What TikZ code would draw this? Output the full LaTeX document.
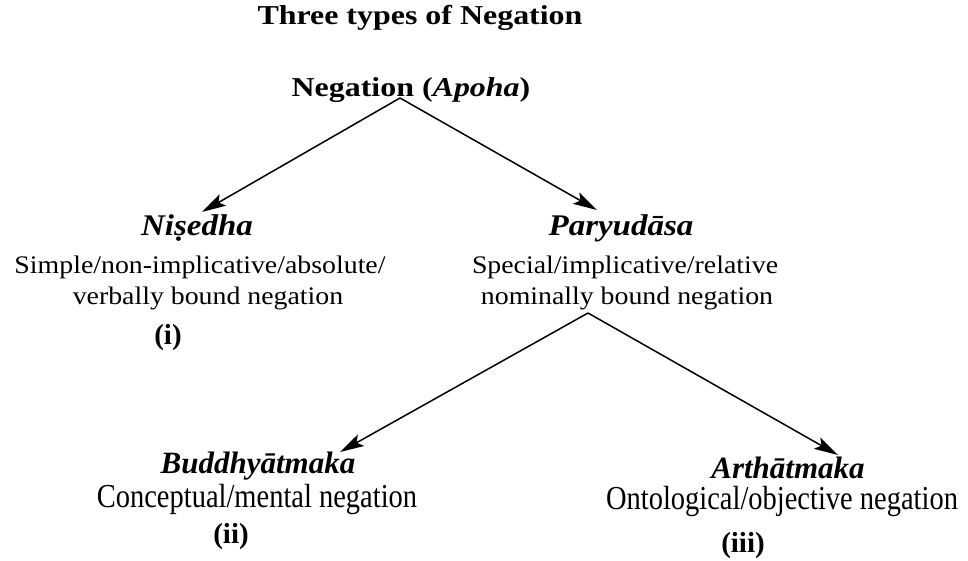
\documentclass[tikz,border=0pt]{standalone}
\usepackage{fontspec}
\setmainfont{Liberation Serif}
\newfontfamily\topfont[FakeStretch=1.17]{Liberation Serif}
\newfontfamily\upfont[FakeStretch=1.1]{Liberation Serif}
\newfontfamily\lowfont[FakeStretch=0.85]{Liberation Serif}
\usepackage{tikz}
\usetikzlibrary{arrows.meta, positioning}
\tikzset{toptext/.style={font=\fontsize{27.3}{30}\topfont\bfseries, anchor=base, inner sep=0pt},
  uphead/.style={font=\fontsize{30}{32}\upfont\bfseries\itshape, anchor=base, inner sep=0pt},
  upbody/.style={font=\fontsize{25.3}{30}\upfont, anchor=base, inner sep=0pt},
  lowhead/.style={font=\fontsize{31}{32}\selectfont\bfseries\itshape, anchor=base, inner sep=0pt},
  lowbody/.style={font=\fontsize{33.5}{34}\lowfont, anchor=base, inner sep=0pt},
  num/.style={font=\fontsize{29}{30}\selectfont\bfseries, anchor=base, inner sep=0pt}}

\begin{document}
\begin{tikzpicture}[x=1pt, y=-1pt, >={Stealth[length=24pt, width=13pt, inset=5pt]}, line width=1.5pt]
\useasboundingbox (0,0) rectangle (968,561);
\node[toptext] (title) at (420,25) {Three types of Negation};
\node[toptext] (neg) at (411,97) {Negation (\textit{Apoha})};
% first level
\node[uphead] (nis) at (197,236) {Niṣedha};
\node[upbody] (nisA) at (200,273) {Simple/non-implicative/absolute/};
\node[upbody] (nisB) at (208,304) {verbally bound negation};
\node[num] (nisN) at (168,344) {(i)};
\node[uphead] (par) at (621,236) {Paryudāsa};
\node[upbody] (parA) at (625,273) {Special/implicative/relative};
\node[upbody] (parB) at (627,304) {nominally bound negation};
% second level
\node[lowhead] (bud) at (258,473) {Buddhyātmaka};
\node[lowbody] (budA) at (257,507) {Conceptual/mental negation};
\node[num] (budN) at (231,543) {(ii)};
\node[lowhead] (art) at (788,478) {Arthātmaka};
\node[lowbody] (artA) at (782,509) {Ontological/objective negation};
\node[num] (artN) at (743,552) {(iii)};
% arrow ends
\coordinate (neg-apex) at (400,98);
\coordinate (nis-tip) at (202,212);
\coordinate (par-tip) at (597,210);
\coordinate (par-apex) at (588,313);
\coordinate (bud-tip) at (340,452);
\coordinate (art-tip) at (838,455);
\draw [->] (neg-apex) -- (nis-tip);
\draw [->] (neg-apex) -- (par-tip);
\draw [->] (par-apex) -- (bud-tip);
\draw [->] (par-apex) -- (art-tip);
\end{tikzpicture}
\end{document}
